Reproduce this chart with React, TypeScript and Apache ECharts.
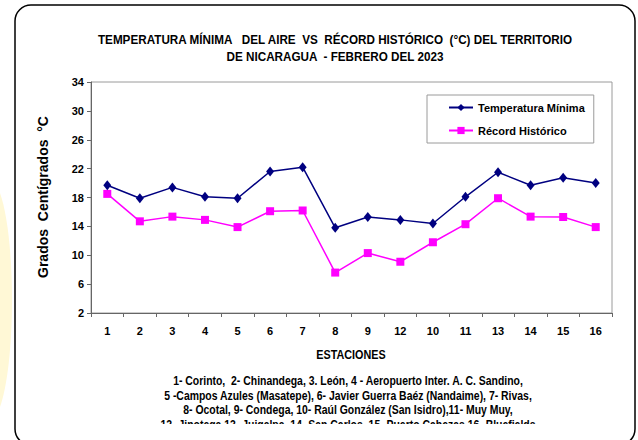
import React, { useEffect, useRef } from "react";
import * as echarts from "echarts";

const estaciones = ["1", "2", "3", "4", "5", "6", "7", "8", "9", "12", "10", "11", "13", "14", "15", "16"];
const temperaturaMinima = [19.7, 17.9, 19.4, 18.1, 17.9, 21.6, 22.2, 13.8, 15.3, 14.9, 14.4, 18.1, 21.5, 19.7, 20.75, 20.0];
const recordHistorico = [18.5, 14.7, 15.35, 14.9, 13.9, 16.1, 16.2, 7.6, 10.3, 9.1, 11.8, 14.3, 17.9, 15.35, 15.3, 13.9];
const yTicks = { min: 2, max: 34, interval: 4 };
const tituloLineas = [
  "TEMPERATURA MÍNIMA   DEL AIRE  VS  RÉCORD HISTÓRICO  (°C) DEL TERRITORIO",
  "DE NICARAGUA  - FEBRERO DEL 2023",
];
const notaLineas = [
  "1- Corinto,  2- Chinandega, 3. León, 4 - Aeropuerto Inter. A. C. Sandino,",
  "5 -Campos Azules (Masatepe), 6- Javier Guerra Baéz (Nandaime), 7- Rivas,",
  "8- Ocotal, 9- Condega, 10- Raúl González (San Isidro),11- Muy Muy,",
  "12- Jinotega 13- Juigalpa, 14- San Carlos, 15- Puerto Cabezas 16- Bluefields",
];

const NARROW = "'Liberation Sans Narrow', 'Arial Narrow', 'Liberation Sans', Arial, sans-serif";
const SANS = "'Liberation Sans', Arial, sans-serif";

export default function App() {
  const ref = useRef<HTMLDivElement>(null);
  useEffect(() => {
    if (!ref.current) return;
    const chart = echarts.init(ref.current, undefined, { renderer: "svg" });
    const graphics: any[] = [
      { type: "ellipse", shape: { cx: -10, cy: 300, rx: 22, ry: 120 }, style: { fill: "#fff8d6" }, z: 0 },
      {
        type: "rect",
        shape: { x: 15, y: 5, width: 620, height: 440, r: 16 },
        style: { fill: "#ffffff", stroke: "#000000", lineWidth: 1.5 },
        z: 0,
      },
    ];
    tituloLineas.forEach((t, i) => {
      graphics.push({
        type: "text",
        x: 335,
        y: 40 + i * 17,
        scaleX: 0.9,
        style: { text: t, font: `bold 13px ${NARROW}`, fill: "#000", textAlign: "center", textVerticalAlign: "middle" },
        z: 10,
      });
    });
    graphics.push({
      type: "text",
      x: 43,
      y: 197,
      rotation: Math.PI / 2,
      style: {
        text: "Grados  Centígrados  °C",
        font: `bold 14px ${SANS}`,
        fill: "#000",
        textAlign: "center",
        textVerticalAlign: "middle",
      },
      z: 10,
    });
    graphics.push({
      type: "text",
      x: 351,
      y: 355,
      scaleX: 0.9,
      style: { text: "ESTACIONES", font: `bold 12px ${NARROW}`, fill: "#000", textAlign: "center", textVerticalAlign: "middle" },
      z: 10,
    });
    notaLineas.forEach((t, i) => {
      graphics.push({
        type: "text",
        x: 348,
        y: 381 + i * 14.5,
        scaleX: 0.87,
        style: { text: t, font: `bold 12px ${NARROW}`, fill: "#000", textAlign: "center", textVerticalAlign: "middle" },
        z: 10,
      });
    });
    graphics.push({
      type: "rect",
      shape: { x: 16, y: 424, width: 618, height: 8 },
      style: { fill: "#ffffff" },
      z: 20,
    });

    chart.setOption({
      animation: false,
      backgroundColor: "#ffffff",
      graphic: graphics,
      grid: {
        left: 91,
        right: 26,
        top: 82,
        bottom: 127,
        show: true,
        borderColor: "#9a9a9a",
        borderWidth: 1,
        backgroundColor: "transparent",
        z: 5,
      },
      legend: {
        show: true,
        orient: "vertical",
        left: 427,
        top: 95,
        padding: [7, 9, 7, 21],
        itemGap: 12,
        itemWidth: 24,
        itemHeight: 9,
        borderColor: "#9a9a9a",
        borderWidth: 1,
        backgroundColor: "#ffffff",
        textStyle: { fontFamily: NARROW, fontWeight: "bold", fontSize: 11, color: "#000" },
        data: ["Temperatura Mínima", "Récord Histórico"],
        z: 12,
      },
      xAxis: {
        type: "category",
        data: estaciones,
        boundaryGap: true,
        axisLine: { lineStyle: { color: "#666", width: 1 } },
        axisTick: { show: true, length: 4, interval: 0, lineStyle: { color: "#666" } },
        axisLabel: { fontFamily: NARROW, fontWeight: "bold", fontSize: 11, color: "#000", margin: 12, interval: 0 },
        splitLine: { show: false },
        z: 6,
      },
      yAxis: {
        type: "value",
        min: yTicks.min,
        max: yTicks.max,
        interval: yTicks.interval,
        axisLine: { show: true, lineStyle: { color: "#666", width: 1 } },
        axisTick: { show: true, length: 4, lineStyle: { color: "#666" } },
        axisLabel: { fontFamily: NARROW, fontWeight: "bold", fontSize: 11, color: "#000", margin: 7 },
        splitLine: { show: false },
        z: 6,
      },
      series: [
        {
          name: "Temperatura Mínima",
          type: "line",
          data: temperaturaMinima,
          symbol: "diamond",
          symbolSize: [8, 10],
          lineStyle: { color: "#000080", width: 1.5 },
          itemStyle: { color: "#000080" },
          z: 8,
        },
        {
          name: "Récord Histórico",
          type: "line",
          data: recordHistorico,
          symbol: "rect",
          symbolSize: 8,
          lineStyle: { color: "#ff00ff", width: 1.5 },
          itemStyle: { color: "#ff00ff" },
          z: 7,
        },
      ],
    });
    return () => chart.dispose();
  }, []);
  return (
    <div
      ref={ref}
      style={{ position: "fixed", left: 0, top: 0, width: 638, height: 440, background: "#fff" }}
    />
  );
}
